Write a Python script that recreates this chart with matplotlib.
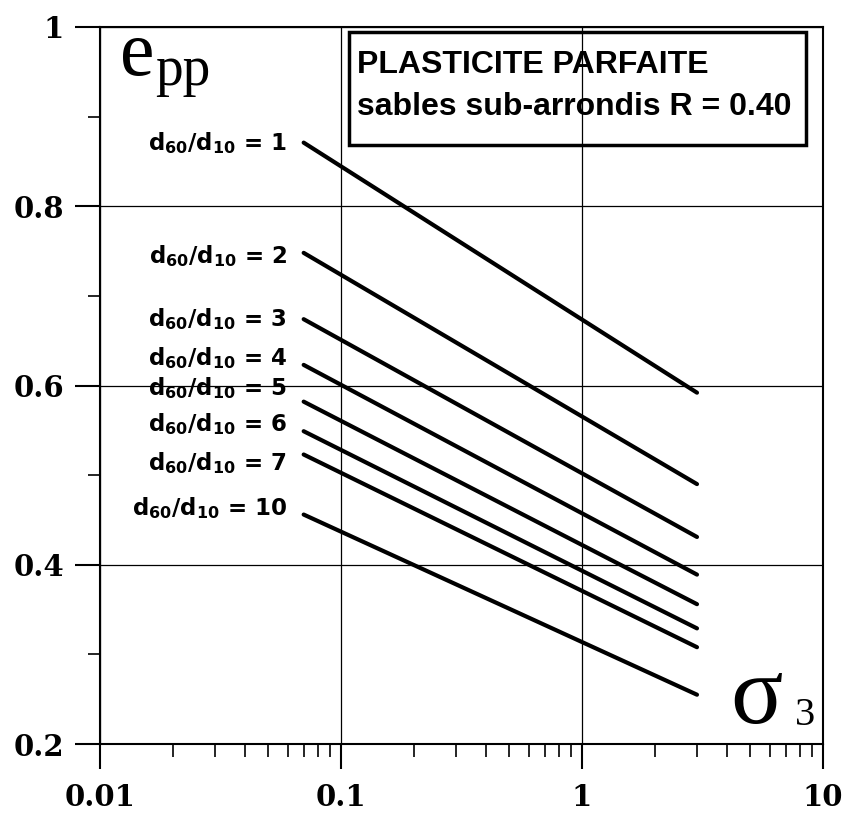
import numpy as np
import matplotlib.pyplot as plt
from matplotlib.ticker import FixedLocator, NullFormatter, LogLocator
from matplotlib.patches import Rectangle

# d60/d10 ratios and e_pp at start / end of each line (sigma3 = 0.07 -> 3)
ratios = [1, 2, 3, 4, 5, 6, 7, 10]
sigma_ends = [0.07, 3.0]
e_start = [0.871, 0.748, 0.674, 0.623, 0.582, 0.549, 0.523, 0.456]
e_end = [0.592, 0.490, 0.431, 0.389, 0.356, 0.329, 0.308, 0.255]

x_ticks = [0.01, 0.1, 1, 10]
x_ticklabels = ["0.01", "0.1", "1", "10"]
y_ticks = [0.2, 0.4, 0.6, 0.8, 1.0]
y_ticklabels = ["0.2", "0.4", "0.6", "0.8", "1"]

W, H = 848, 821
fig = plt.figure(figsize=(W/100, H/100), dpi=100)
ax = fig.add_axes([100/W, 1 - 744/H, 723/W, 717/H])

plt.rcParams['mathtext.fontset'] = 'custom'
plt.rcParams['mathtext.rm'] = 'DejaVu Sans:bold'
plt.rcParams['mathtext.it'] = 'DejaVu Sans:bold'

for r, a, b in zip(ratios, e_start, e_end):
    ax.plot(sigma_ends, [a, b], color="black", lw=3.0, solid_capstyle="round")

# curve labels, small vertical offsets in points
label_dy = [0, -2, 0, 5, 10, 5, -6, 5]
for r, a, dy in zip(ratios, e_start, label_dy):
    ax.annotate(f"d$_{{60}}$/d$_{{10}}$ = {r}", xy=(0.07, a), xytext=(-12, dy),
                textcoords="offset points", ha="right", va="center",
                fontsize=16.5, fontweight="bold", family="DejaVu Sans")

ax.set_xscale("log")
ax.set_xlim(0.01, 10)
ax.set_ylim(0.2, 1.0)

ax.xaxis.set_major_locator(FixedLocator(x_ticks))
ax.set_xticklabels(x_ticklabels)
ax.xaxis.set_minor_locator(LogLocator(base=10, subs=np.arange(2, 10)))
ax.xaxis.set_minor_formatter(NullFormatter())
ax.yaxis.set_major_locator(FixedLocator(y_ticks))
ax.set_yticklabels(y_ticklabels)
ax.yaxis.set_minor_locator(FixedLocator([0.3, 0.5, 0.7, 0.9]))

ax.tick_params(which="major", direction="out", length=18, width=1.5, pad=8)
ax.tick_params(which="minor", direction="out", length=9, width=1.2)
ax.tick_params(axis="x", which="major", pad=10)
for lab in ax.get_xticklabels() + ax.get_yticklabels():
    lab.set_family("DejaVu Serif")
    lab.set_fontweight("bold")
    lab.set_fontsize(21)

ax.grid(True, which="major", color="black", lw=0.9)
for s in ax.spines.values():
    s.set_linewidth(1.5)

# axis titles
fig.text(120/W, 1 - 75/H, "e", family="Liberation Serif", fontsize=56, va="baseline")
fig.text(155/W, 1 - 85/H, "pp", family="Liberation Serif", fontsize=40, va="baseline")
fig.text(730/W, 1 - 723/H, "σ", family="Liberation Serif", fontsize=70, va="baseline")
fig.text(795/W, 1 - 725/H, "3", family="Liberation Serif", fontsize=29, va="baseline")

# title box
fig.patches.append(Rectangle((349/W, 1 - 145/H), 457/W, 113/H, transform=fig.transFigure,
                             fill=False, lw=2.5, edgecolor="black"))
fig.text(357/W, 1 - 73/H, "PLASTICITE PARFAITE", fontsize=23, fontweight="bold",
         family="Liberation Sans", va="baseline")
fig.text(357/W, 1 - 115/H, "sables sub-arrondis R = 0.40", fontsize=23, fontweight="bold",
         family="Liberation Sans", va="baseline")

fig.savefig("out.png", dpi=100)
